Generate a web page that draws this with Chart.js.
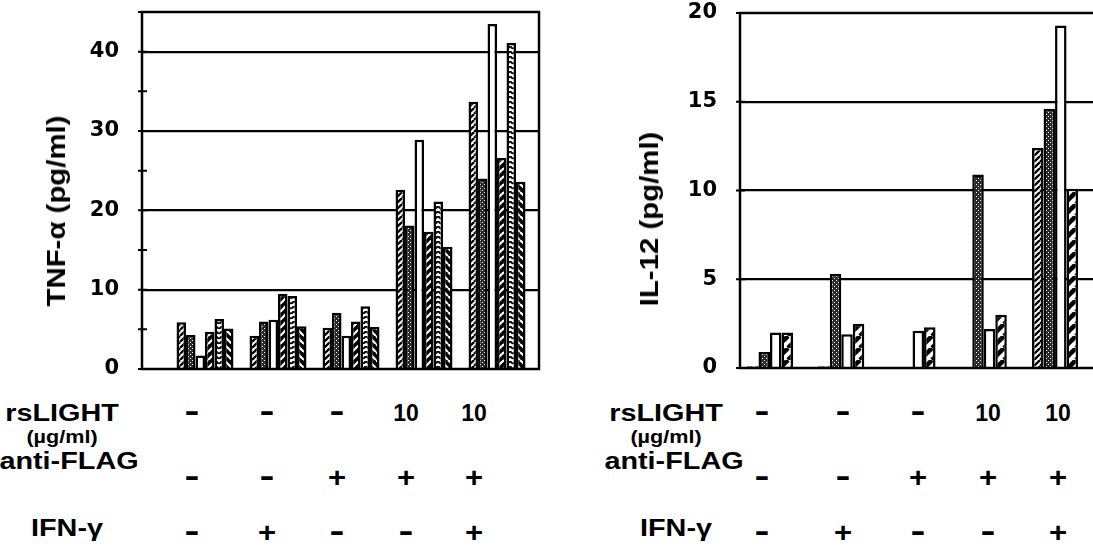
<!DOCTYPE html>
<html>
<head>
<meta charset="utf-8">
<script src="https://cdn.jsdelivr.net/npm/chart.js@4/dist/chart.umd.min.js"></script>
<style>
  html, body { margin: 0; padding: 0; background: #fff; overflow: hidden; }
  #page { position: relative; width: 1093px; height: 552px; overflow: hidden; }
  canvas { position: absolute; top: 0; }
  .t { position: absolute; font-family: "Liberation Sans", Arial, sans-serif; font-weight: bold; color: #000;
       line-height: 1; white-space: nowrap; }
</style>
</head>
<body>
<div id="page">
  <canvas id="tnf" width="560" height="380" style="left:0"></canvas>
  <canvas id="il12" width="600" height="380" style="left:560px"></canvas>
</div>
<script>
// five culture conditions, in the order they are drawn
const groups = [0, 1, 2, 3, 4];
const rsLightRow = ['-', '-', '-', '10', '10'];
const antiFlagRow = ['-', '-', '+', '+', '+'];
const ifnRow = ['-', '+', '-', '-', '+'];

// TNF-alpha (pg/ml), six bars per condition
const tnfHatch   = [5.9, 4.2, 5.2, 22.6, 33.7];
const tnfDotted  = [4.3, 6.0, 7.1, 18.1, 24.0];
const tnfOpen    = [1.7, 6.2, 4.2, 28.9, 43.5];
const tnfChevA   = [4.7, 9.5, 6.0, 17.3, 26.6];
const tnfScale   = [6.3, 9.2, 7.9, 21.1, 41.1];
const tnfChevB   = [5.1, 5.4, 5.3, 15.4, 23.6];
const tnfTicks   = [0, 10, 20, 30, 40];

// IL-12 (pg/ml), four bars per condition
const ilHatch  = [0.1, 0.1, 0.05, 0.05, 12.4];
const ilDotted = [0.9, 5.3, 0.05, 10.9, 14.6];
const ilOpen   = [2.0, 1.9, 2.1, 2.2, 19.3];
const ilHeavy  = [2.0, 2.5, 2.3, 3.0, 10.1];
const ilTicks  = [0, 5, 10, 15, 20];

function makePattern(w, h, draw) {
  const c = document.createElement('canvas');
  c.width = w; c.height = h;
  const g = c.getContext('2d');
  draw(g, w, h);
  return g.createPattern(c, 'repeat');
}

function diag(g, w, h, dir) {
  for (let k = -1; k <= 1; k++) {
    g.beginPath();
    if (dir > 0) { g.moveTo(k * w, h); g.lineTo(k * w + w, 0); }
    else { g.moveTo(k * w, 0); g.lineTo(k * w + w, h); }
    g.stroke();
  }
}

const patHatch = makePattern(6, 6, (g, w, h) => {
  g.fillStyle = '#fff'; g.fillRect(0, 0, w, h);
  g.strokeStyle = '#000'; g.lineWidth = 2.3; diag(g, w, h, 1);
});
const patDots = makePattern(4, 4, (g) => {
  g.fillStyle = '#2a2a2a'; g.fillRect(0, 0, 4, 4);
  g.fillStyle = '#fff'; g.fillRect(0, 0, 1, 1); g.fillRect(2, 2, 1, 1);
});
const patChevA = makePattern(8, 8, (g, w, h) => {
  g.fillStyle = '#000'; g.fillRect(0, 0, w, h);
  g.strokeStyle = '#fff'; g.lineWidth = 2.2; diag(g, w, h, 1);
});
const patChevB = makePattern(8, 8, (g, w, h) => {
  g.fillStyle = '#000'; g.fillRect(0, 0, w, h);
  g.strokeStyle = '#fff'; g.lineWidth = 2.2; diag(g, w, h, -1);
});
const patScale = makePattern(6, 5, (g) => {
  g.fillStyle = '#fff'; g.fillRect(0, 0, 6, 5);
  g.strokeStyle = '#000'; g.lineWidth = 1.8;
  g.beginPath(); g.arc(3, 1, 2.3, 0, Math.PI); g.stroke();
});
const patHeavy = makePattern(12, 12, (g, w, h) => {
  g.fillStyle = '#fff'; g.fillRect(0, 0, w, h);
  g.strokeStyle = '#000'; g.lineWidth = 4.5; diag(g, w, h, 1);
});

// box round the plot and small ticks on the value axis
const framePlugin = {
  id: 'frame',
  afterDatasetsDraw(chart) {
    const { ctx, chartArea: a, scales: { y } } = chart;
    ctx.save();
    ctx.strokeStyle = '#000';
    ctx.lineWidth = 2.5;
    ctx.strokeRect(a.left, a.top, a.right - a.left, a.bottom - a.top);
    ctx.lineWidth = 2;
    ctx.beginPath();
    y.ticks.forEach(t => {
      const py = y.getPixelForValue(t.value);
      ctx.moveTo(a.left - 4, py);
      ctx.lineTo(a.left + 5, py);
    });
    ctx.stroke();
    ctx.restore();
  }
};

function series(values, fill, pct) {
  return {
    data: groups.map((g, i) => ({ x: g, y: values[i] })),
    backgroundColor: fill,
    borderColor: '#000',
    borderWidth: 2.5,
    borderSkipped: 'bottom',
    barPercentage: 1,
    categoryPercentage: pct
  };
}

function makeChart(id, datasets, xMin, xMax, yMax, labelled, gridAt, axisWidth, padding) {
  return new Chart(document.getElementById(id), {
    type: 'bar',
    data: { datasets },
    plugins: [framePlugin],
    options: {
      responsive: false,
      animation: false,
      layout: { padding },
      plugins: { legend: { display: false }, tooltip: { enabled: false } },
      scales: {
        x: { type: 'linear', min: xMin, max: xMax, offset: false, display: false },
        y: {
          min: 0, max: yMax,
          ticks: {
            stepSize: 5,
            padding: 23,
            color: '#000',
            font: { family: '"DejaVu Sans", sans-serif', weight: 'bold', size: 21, lineHeight: 1 },
            callback: v => (labelled.includes(v) ? String(v) : '')
          },
          grid: {
            drawTicks: false,
            lineWidth: 2.2,
            color: c => (gridAt.includes(c.tick.value) ? '#000' : 'rgba(0,0,0,0)')
          },
          border: { display: false },
          afterFit: s => { s.width = axisWidth; s.paddingTop = 0; s.paddingBottom = 0; }
        }
      }
    }
  });
}

makeChart('tnf', [
  series(tnfHatch, patHatch, 0.904),
  series(tnfDotted, patDots, 0.904),
  series(tnfOpen, '#fff', 0.904),
  series(tnfChevA, patChevA, 0.904),
  series(tnfScale, patScale, 0.904),
  series(tnfChevB, patChevB, 0.904)
], -0.863, 4.575, 45, tnfTicks, [10, 20, 30, 40], 142, { left: 0, right: 21, top: 12, bottom: 11 });

makeChart('il12', [
  series(ilHatch, patHatch, 0.646),
  series(ilDotted, patDots, 0.646),
  series(ilOpen, '#fff', 0.646),
  series(ilHeavy, patHeavy, 0.646)
], -0.421, 5.15, 20, ilTicks, [5, 10, 15], 180, { left: 0, right: 23, top: 13, bottom: 12 });

// y axis titles and the treatment table under each panel
const page = document.getElementById('page');
function put(text, x, y, size, sx, rotate) {
  const d = document.createElement('div');
  d.className = 't';
  d.textContent = text;
  d.style.fontSize = size + 'px';
  d.style.left = x + 'px';
  d.style.top = y + 'px';
  d.style.transform = 'translate(-50%, -50%)' + (rotate ? ' rotate(-90deg)' : '') + ' scaleX(' + sx + ')';
  page.appendChild(d);
}

put('TNF-\u03b1 (pg/ml)', 56, 211, 26, 1.13, true);
put('IL-12 (pg/ml)', 649, 219, 26, 1.13, true);

const panels = [
  { labelX: [62, 62, 69, 67], cols: [192, 267, 337, 406, 474] },
  { labelX: [666, 666, 674, 676], cols: [762, 843, 918, 988, 1058] }
];
const rows = [
  { name: 'rsLIGHT', y: 413, cells: rsLightRow },
  { name: 'anti-FLAG', y: 461, cellY: 478, cells: antiFlagRow },
  { name: 'IFN-\u03b3', y: 528, cellY: 533, cells: ifnRow }
];
panels.forEach(p => {
  put('(\u00b5g/ml)', p.labelX[1], 437, 18, 1.2, false);
  rows.forEach((r, ri) => {
    put(r.name, p.labelX[ri === 0 ? 0 : ri + 1], r.y, 24, 1.2, false);
    const cy = r.cellY || r.y;
    r.cells.forEach((c, i) => {
      if (c === '-') put('-', p.cols[i], cy - 3, 32, 1.4, false);
      else if (c === '+') put('+', p.cols[i], cy, 27, 1.15, false);
      else put(c, p.cols[i], cy, 23, 1.0, false);
    });
  });
});
</script>
</body>
</html>
